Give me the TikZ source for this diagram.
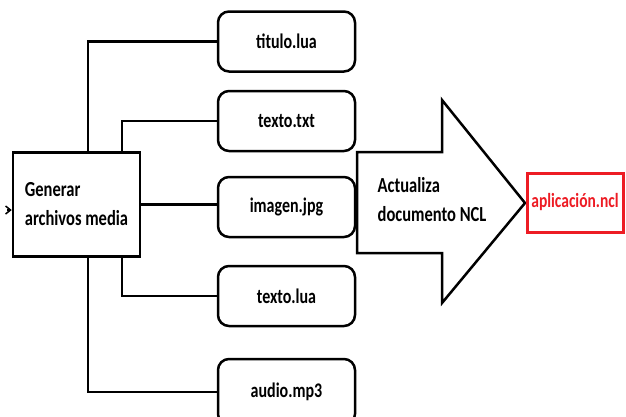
\documentclass[tikz,border=0pt]{standalone}
\usepackage{fontspec}
\setmainfont{Carlito}
\usetikzlibrary{arrows.meta, positioning, calc}
\definecolor{rojo}{RGB}{237,28,36}
\newcommand{\tall}[1]{\scalebox{1}[1.3]{#1}}

\begin{document}
\begin{tikzpicture}[x=1pt, y=-1pt, >=Stealth, line width=2.5pt,
    archivo/.style={draw, rounded corners=11pt, minimum width=137pt, minimum height=60pt, font=\fontsize{16}{18}\selectfont\bfseries},
    proceso/.style={draw, minimum width=127pt, minimum height=104pt, align=left, font=\fontsize{16.5}{29}\selectfont\bfseries}]
  \useasboundingbox (0,0) rectangle (626,416);

  \node[proceso] (gen) at (76.5,204.5) {\tall{Generar}\\\tall{archivos media}};

  \node[archivo] (titulo) at (286.5,41.5) {\tall{titulo.lua}};
  \node[archivo] (txt) at (286.5,121) {\tall{texto.txt}};
  \node[archivo] (imagen) at (286.5,207) {\tall{imagen.jpg}};
  \node[archivo] (lua) at (286.5,296) {\tall{texto.lua}};
  \node[archivo, minimum height=66pt] (audio) at (286.5,392) {\tall{audio.mp3}};

  % flecha grande
  \draw[line join=miter] (357,152) -- (442,152) -- (442,100) -- (525,203)
    -- (442,303) -- (442,253) -- (357,253) -- cycle;
  \node[align=left, font=\fontsize{16.5}{29}\selectfont\bfseries] (act) at (432,200)
    {\tall{Actualiza}\\\tall{documento NCL}};

  \node[draw=rojo, text=rojo, line width=3pt, minimum width=96pt, minimum height=59pt,
    font=\fontsize{15.5}{18}\selectfont\bfseries] (app) at (575,202.5) {\tall{aplicación.ncl}};

  % entrada
  \coordinate (entrada) at (7,210);
  \draw[-{Straight Barb[length=5pt, width=8pt]}, line width=1.5pt] (entrada) -- (entrada -| gen.west);

  % ramas
  \draw ([xshift=76pt]gen.north west) |- (titulo.west);
  \draw ([xshift=110pt]gen.north west) |- (txt.west);
  \draw (gen.east) -- (gen.east -| imagen.west);
  \draw ([xshift=110pt]gen.south west) |- (lua.west);
  \draw ([xshift=76pt]gen.south west) |- (audio.west);
\end{tikzpicture}
\end{document}
